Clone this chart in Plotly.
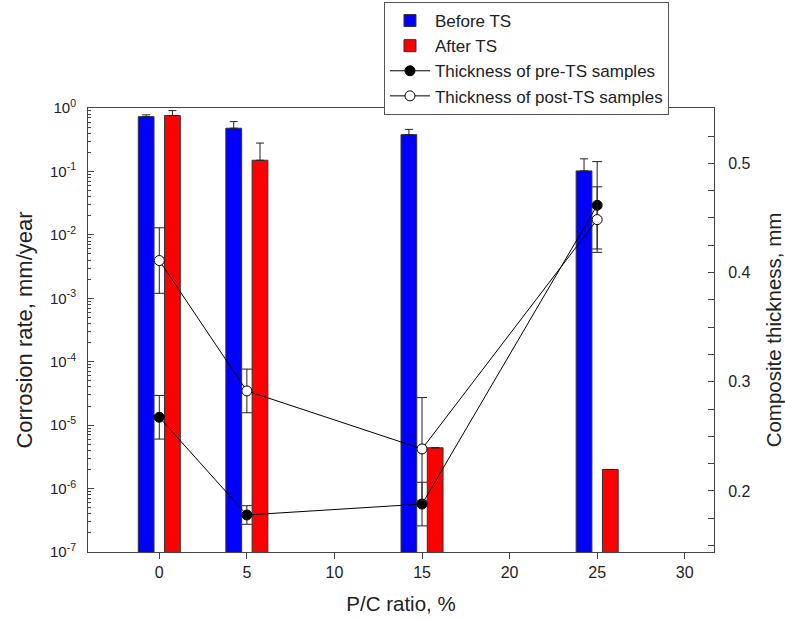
import plotly.graph_objects as go

# ---- data ----
pc_ratio = [0, 5, 15, 25]
before_ts = [0.73, 0.48, 0.38, 0.102]
before_ts_err = [0.05, 0.13, 0.08, 0.056]
after_ts = [0.76, 0.15, 4.4e-6, 2.0e-6]
after_ts_err = [0.15, 0.13, 0.0, 0.0]

thick_pre = [0.2675, 0.178, 0.188, 0.4616]
thick_pre_err = [0.020, 0.0085, 0.020, 0.040]
thick_post = [0.411, 0.2916, 0.2385, 0.4485]
thick_post_err = [0.030, 0.020, 0.047, 0.030]

y_tickvals = [1e-7, 1e-6, 1e-5, 1e-4, 1e-3, 1e-2, 1e-1, 1]
y_ticktext = ["10<sup>-7</sup>", "10<sup>-6</sup>", "10<sup>-5</sup>", "10<sup>-4</sup>",
              "10<sup>-3</sup>", "10<sup>-2</sup>", "10<sup>-1</sup>", "10<sup>0</sup>"]
y_minor = [m * 10.0 ** e for e in range(-7, 0) for m in range(2, 10)]
x_tickvals = [0, 5, 10, 15, 20, 25, 30]
y2_tickvals = [0.2, 0.3, 0.4, 0.5]
y2_ticktext = ["0.2", "0.3", "0.4", "0.5"]

FONT = "Liberation Sans, Arial, sans-serif"
AX = "#444444"
TXT = "#222222"

fig = go.Figure()
fig.add_trace(go.Bar(
    x=pc_ratio, y=before_ts, name="Before TS",
    marker=dict(color="#0000FF", line=dict(color="#333333", width=1)),
    error_y=dict(type="data", symmetric=False, array=before_ts_err,
                 arrayminus=[0] * len(before_ts_err), color="#222222", thickness=1, width=4),
))
fig.add_trace(go.Bar(
    x=pc_ratio, y=after_ts, name="After TS",
    marker=dict(color="#FF0000", line=dict(color="#333333", width=1)),
    error_y=dict(type="data", symmetric=False, array=after_ts_err,
                 arrayminus=[0] * len(after_ts_err), color="#222222", thickness=1, width=4),
))
fig.add_trace(go.Scatter(
    x=pc_ratio, y=thick_pre, name="Thickness of pre-TS samples", yaxis="y2",
    mode="lines+markers",
    line=dict(color="black", width=1),
    marker=dict(symbol="circle", size=10, color="black", line=dict(color="black", width=1)),
    error_y=dict(type="data", array=thick_pre_err, color="#222222", thickness=1, width=5),
))
fig.add_trace(go.Scatter(
    x=pc_ratio, y=thick_post, name="Thickness of post-TS samples", yaxis="y2",
    mode="lines+markers",
    line=dict(color="black", width=1),
    marker=dict(symbol="circle", size=10, color="white", line=dict(color="black", width=1)),
    error_y=dict(type="data", array=thick_post_err, color="#222222", thickness=1, width=5),
))

fig.update_layout(
    width=785, height=619,
    margin=dict(l=88, r=71, t=108, b=67, autoexpand=False),
    paper_bgcolor="white", plot_bgcolor="white",
    font=dict(family=FONT, size=15, color=TXT),
    barmode="group", bargap=0.4, bargroupgap=0.4,
    showlegend=True,
    legend=dict(
        x=0.4728, y=1.2387, xanchor="left", yanchor="top",
        bgcolor="white", bordercolor="#555555", borderwidth=1,
        font=dict(family=FONT, size=17, color=TXT),
        itemwidth=40, tracegroupgap=0,
    ),
    xaxis=dict(
        range=[-4.07, 31.67], tickmode="array", tickvals=x_tickvals,
        ticks="outside", ticklen=6, tickcolor=AX,
        showline=True, linecolor=AX, linewidth=1, mirror=True,
        showgrid=False, zeroline=False, automargin=False,
        title=dict(text="P/C ratio, %", font=dict(size=20.5, color=TXT), standoff=16),
        tickfont=dict(size=16),
    ),
    yaxis=dict(
        type="log", range=[-7, 0],
        tickmode="array", tickvals=y_tickvals, ticktext=y_ticktext,
        ticks="inside", ticklen=6, tickcolor=AX,
        minor=dict(tickmode="array", tickvals=y_minor, ticks="inside", ticklen=3, tickcolor=AX),
        showline=True, linecolor=AX, linewidth=1,
        showgrid=False, zeroline=False, automargin=False,
        ticklabelstandoff=8,
        title=dict(text="Corrosion rate, mm/year", font=dict(size=22, color=TXT), standoff=11),
        tickfont=dict(size=15),
    ),
    yaxis2=dict(
        overlaying="y", side="right", range=[0.1441, 0.5507],
        tickmode="array", tickvals=y2_tickvals, ticktext=y2_ticktext,
        ticks="inside", ticklen=6, tickcolor=AX,
        minor=dict(dtick=0.025, tick0=0, ticks="inside", ticklen=6, tickcolor=AX),
        showline=True, linecolor=AX, linewidth=1,
        showgrid=False, zeroline=False, automargin=False,
        ticklabelstandoff=10,
        title=dict(text="Composite thickness, mm", font=dict(size=20.5, color=TXT), standoff=20),
        tickfont=dict(size=16),
    ),
)

fig.write_html("out.html", config={"displayModeBar": False},
               post_script="document.body.style.margin='0';")
